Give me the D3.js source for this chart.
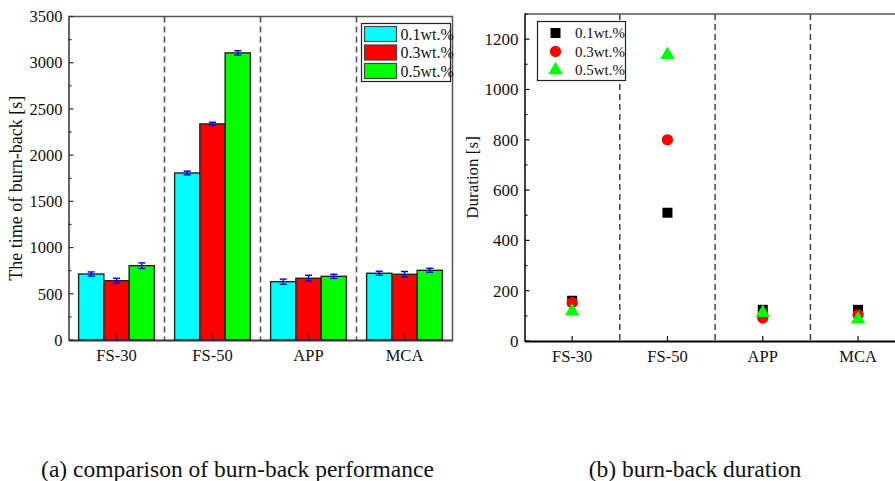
<!DOCTYPE html>
<html>
<head>
<meta charset="utf-8">
<script src="https://cdn.jsdelivr.net/npm/d3@7"></script>
<style>
  html, body { margin: 0; padding: 0; background: #fff; }
  svg { display: block; }
  svg text { font-family: "Liberation Serif", "Times New Roman", serif; }
</style>
</head>
<body>
<svg id="chart" width="895" height="481"></svg>
<script>
// Sample groups shared by both panels
const categories = ["FS-30", "FS-50", "APP", "MCA"];
const seriesNames = ["0.1wt.%", "0.3wt.%", "0.5wt.%"];

// (a) burn-back time [s], one array per concentration
const burnBack01 = [714, 1807, 631, 722];
const burnBack03 = [642, 2338, 668, 711];
const burnBack05 = [804, 3106, 689, 754];
// error half-widths [s]
const burnErr01 = [22, 20, 28, 22];
const burnErr03 = [26, 18, 32, 30];
const burnErr05 = [30, 24, 22, 22];

// (b) burn-back duration [s]
const duration01 = [160, 510, 124, 124];
const duration03 = [152, 800, 91, 104];
const duration05 = [118, 1138, 112, 86];

const leftTicks = [0, 500, 1000, 1500, 2000, 2500, 3000, 3500];
const rightTicks = [0, 200, 400, 600, 800, 1000, 1200];

const barColors = ["#00ffff", "#ff0000", "#00ff00"];
const markerColors = ["#000000", "#ff0000", "#00ff00"];
const SERIF = "Liberation Serif";

const svg = d3.select("#chart");

/* ---------------- panel (a): grouped bars ---------------- */
const A = { left: 68.5, right: 452.5, top: 16.5, bottom: 340 };
const xa = d3.scaleBand().domain(categories).range([A.left, A.right]);
const xaInner = d3.scaleBand().domain(seriesNames).range([0, xa.bandwidth()]).paddingOuter(0.4);
const ya = d3.scaleLinear().domain([0, 3500]).range([A.bottom, A.top]);

const ga = svg.append("g");

// dashed separators between groups
ga.selectAll("line.sep")
  .data(categories.slice(1))
  .join("line")
  .attr("x1", d => xa(d)).attr("x2", d => xa(d))
  .attr("y1", A.top).attr("y2", A.bottom)
  .attr("stroke", "#555").attr("stroke-width", 1.6)
  .attr("stroke-dasharray", "6,4");

const aSeries = [
  { name: seriesNames[0], vals: burnBack01, err: burnErr01, color: barColors[0] },
  { name: seriesNames[1], vals: burnBack03, err: burnErr03, color: barColors[1] },
  { name: seriesNames[2], vals: burnBack05, err: burnErr05, color: barColors[2] }
];

aSeries.forEach(s => {
  const g = ga.append("g");
  const rows = categories.map((c, i) => ({ c, v: s.vals[i], e: s.err[i] }));
  g.selectAll("rect")
    .data(rows)
    .join("rect")
    .attr("x", d => xa(d.c) + xaInner(s.name))
    .attr("y", d => ya(d.v))
    .attr("width", xaInner.bandwidth())
    .attr("height", d => ya(0) - ya(d.v))
    .attr("fill", s.color)
    .attr("stroke", "#222").attr("stroke-width", 1.4);
  // error bars
  const eb = g.selectAll("g.err").data(rows).join("g");
  const cx = d => xa(d.c) + xaInner(s.name) + xaInner.bandwidth() / 2;
  eb.append("line")
    .attr("x1", cx).attr("x2", cx)
    .attr("y1", d => ya(d.v + d.e)).attr("y2", d => ya(d.v - d.e))
    .attr("stroke", "#0000ff").attr("stroke-width", 1.4);
  [1, -1].forEach(sign => {
    eb.append("line")
      .attr("x1", d => cx(d) - 3.5).attr("x2", d => cx(d) + 3.5)
      .attr("y1", d => ya(d.v + sign * d.e)).attr("y2", d => ya(d.v + sign * d.e))
      .attr("stroke", "#0000ff").attr("stroke-width", 1.4);
  });
});

// frame: top and right
ga.append("path")
  .attr("d", `M${A.left},${A.top}H${A.right}V${A.bottom}`)
  .attr("fill", "none").attr("stroke", "#555").attr("stroke-width", 1.5);

// y axis with inward ticks
const yAxisA = d3.axisLeft(ya).tickValues(leftTicks).tickFormat(d3.format("d")).tickSize(0).tickPadding(6);
const yaG = ga.append("g").attr("transform", `translate(${A.left},0)`).call(yAxisA);
yaG.attr("font-family", SERIF);
yaG.select(".domain").attr("stroke", "#333").attr("stroke-width", 1.5);
yaG.selectAll("text").attr("font-size", 16.5).attr("fill", "#111");
ga.selectAll("line.ytickA")
  .data(d3.range(0, 3501, 250)).join("line")
  .attr("x1", A.left).attr("x2", d => A.left + (d % 500 === 0 ? 5 : 3))
  .attr("y1", d => ya(d)).attr("y2", d => ya(d))
  .attr("stroke", "#333").attr("stroke-width", 1.2);

// x axis
const xAxisA = d3.axisBottom(xa).tickSize(0).tickPadding(9);
const xaG = ga.append("g").attr("transform", `translate(0,${A.bottom})`).call(xAxisA);
xaG.attr("font-family", SERIF);
xaG.select(".domain").attr("stroke", "#333").attr("stroke-width", 1.8);
xaG.selectAll("text").attr("font-size", 16.5).attr("fill", "#111");
ga.selectAll("line.xtickA")
  .data(categories).join("line")
  .attr("x1", d => xa(d) + xa.bandwidth() / 2).attr("x2", d => xa(d) + xa.bandwidth() / 2)
  .attr("y1", A.bottom).attr("y2", A.bottom - 5)
  .attr("stroke", "#333").attr("stroke-width", 1.2);

// y title
ga.append("text")
  .attr("transform", `translate(22,${(A.top + A.bottom) / 2 + 10}) rotate(-90)`)
  .attr("text-anchor", "middle")
  .attr("font-size", 18).attr("fill", "#111")
  .text("The time of burn-back [s]");

// legend (a)
const legA = ga.append("g").attr("transform", "translate(361.5,23.5)");
legA.append("rect").attr("width", 89).attr("height", 58)
  .attr("fill", "#fff").attr("stroke", "#222").attr("stroke-width", 1.2);
aSeries.forEach((s, i) => {
  legA.append("rect")
    .attr("x", 3).attr("y", 3 + i * 18.5).attr("width", 32).attr("height", 15)
    .attr("fill", s.color).attr("stroke", "#444").attr("stroke-width", 1.2);
  legA.append("text")
    .attr("x", 39).attr("y", 16 + i * 18.5)
    .attr("font-size", 16).attr("fill", "#111")
    .text(s.name);
});

/* ---------------- panel (b): scatter ---------------- */
const B = { left: 524.5, top: 14, bottom: 341 };
const bandB = 95.3;
const xb = d3.scaleBand().domain(categories).range([B.left, B.left + bandB * categories.length]);
const yb = d3.scaleLinear().domain([0, 1300]).range([B.bottom, B.top]);
const gb = svg.append("g");

gb.selectAll("line.sep")
  .data(categories.slice(1))
  .join("line")
  .attr("x1", d => xb(d)).attr("x2", d => xb(d))
  .attr("y1", B.top).attr("y2", B.bottom)
  .attr("stroke", "#444").attr("stroke-width", 1.5)
  .attr("stroke-dasharray", "6,4");

// top frame
gb.append("line")
  .attr("x1", B.left).attr("x2", B.left + bandB * 4)
  .attr("y1", B.top).attr("y2", B.top)
  .attr("stroke", "#555").attr("stroke-width", 1.5);

const yAxisB = d3.axisLeft(yb).tickValues(rightTicks).tickFormat(d3.format("d")).tickSize(0).tickPadding(6);
const ybG = gb.append("g").attr("transform", `translate(${B.left},0)`).call(yAxisB);
ybG.attr("font-family", SERIF);
ybG.select(".domain").attr("stroke", "#111").attr("stroke-width", 1.6);
ybG.selectAll("text").attr("font-size", 17).attr("fill", "#111");
gb.selectAll("line.ytickB")
  .data(d3.range(0, 1301, 100)).join("line")
  .attr("x1", B.left).attr("x2", d => B.left + (d % 200 === 0 ? 5 : 3))
  .attr("y1", d => yb(d)).attr("y2", d => yb(d))
  .attr("stroke", "#111").attr("stroke-width", 1.2);

const xAxisB = d3.axisBottom(xb).tickSize(0).tickPadding(9);
const xbG = gb.append("g").attr("transform", `translate(0,${B.bottom})`).call(xAxisB);
xbG.attr("font-family", SERIF);
xbG.select(".domain").attr("stroke", "#000").attr("stroke-width", 2.2);
xbG.selectAll("text").attr("font-size", 16.5).attr("fill", "#111");
gb.selectAll("line.xtickB")
  .data(categories).join("line")
  .attr("x1", d => xb(d) + xb.bandwidth() / 2).attr("x2", d => xb(d) + xb.bandwidth() / 2)
  .attr("y1", B.bottom).attr("y2", B.bottom - 5)
  .attr("stroke", "#111").attr("stroke-width", 1.2);

gb.append("text")
  .attr("transform", `translate(478,${(B.top + B.bottom) / 2}) rotate(-90)`)
  .attr("text-anchor", "middle")
  .attr("font-size", 17).attr("fill", "#111")
  .text("Duration [s]");

const bSeries = [
  { name: seriesNames[0], vals: duration01, color: markerColors[0], type: d3.symbolSquare, size: 100 },
  { name: seriesNames[1], vals: duration03, color: markerColors[1], type: d3.symbolCircle, size: 100 },
  { name: seriesNames[2], vals: duration05, color: markerColors[2], type: d3.symbolTriangle, size: 90 }
];
const cxB = c => xb(c) + xb.bandwidth() / 2;
bSeries.forEach(s => {
  gb.append("g").selectAll("path")
    .data(categories.map((c, i) => ({ c, v: s.vals[i] })))
    .join("path")
    .attr("transform", d => `translate(${cxB(d.c)},${yb(d.v)})`)
    .attr("d", d3.symbol().type(s.type).size(s.size))
    .attr("fill", s.color);
});

// legend (b)
const legB = gb.append("g").attr("transform", "translate(537.5,21.5)");
legB.append("rect").attr("width", 88).attr("height", 59)
  .attr("fill", "#fff").attr("stroke", "#222").attr("stroke-width", 1.2);
bSeries.forEach((s, i) => {
  legB.append("path")
    .attr("transform", `translate(18,${11.5 + i * 18.5})`)
    .attr("d", d3.symbol().type(s.type).size(s.size))
    .attr("fill", s.color);
  legB.append("text")
    .attr("x", 37.5).attr("y", 16.5 + i * 18.5)
    .attr("font-size", 15).attr("fill", "#111")
    .text(s.name);
});

/* ---------------- captions ---------------- */
svg.append("text")
  .attr("x", 237.5).attr("y", 477)
  .attr("text-anchor", "middle")
  .attr("font-size", 23.5).attr("fill", "#111")
  .text("(a) comparison of burn-back performance");
svg.append("text")
  .attr("x", 695).attr("y", 477)
  .attr("text-anchor", "middle")
  .attr("font-size", 23.5).attr("fill", "#111")
  .text("(b) burn-back duration");
</script>
</body>
</html>
